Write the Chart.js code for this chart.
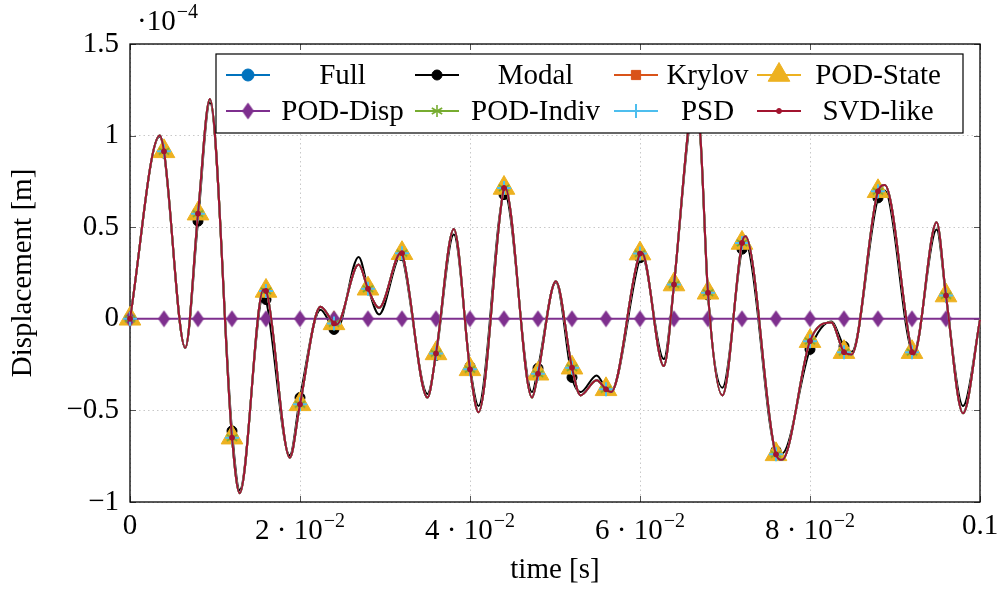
<!DOCTYPE html>
<html>
<head>
<meta charset="utf-8">
<script src="https://cdn.jsdelivr.net/npm/chart.js@4.4.0/dist/chart.umd.min.js"></script>
<style>
  html, body { margin: 0; padding: 0; background: #fff; }
</style>
</head>
<body>
<canvas id="resp" width="1001" height="592"></canvas>
<script>
// time instants [s]: extrema of the response plus the marker instants (every 4 ms)
var timeS = [0, 0.0035, 0.004, 0.0065, 0.008, 0.0094, 0.012, 0.0129, 0.0157, 0.016,
  0.0188, 0.02, 0.0224, 0.024, 0.0243, 0.0269, 0.028, 0.0293, 0.0319, 0.032,
  0.035, 0.036, 0.0381, 0.04, 0.041, 0.044, 0.0441, 0.0473, 0.048, 0.0501,
  0.052, 0.053, 0.0549, 0.056, 0.0566, 0.06, 0.0602, 0.0628, 0.064, 0.0656,
  0.0663, 0.0671, 0.068, 0.0697, 0.072, 0.0724, 0.076, 0.0767, 0.08, 0.0825,
  0.084, 0.0849, 0.088, 0.0888, 0.092, 0.0922, 0.0949, 0.096, 0.098, 0.1];

// displacement, in units of 1e-4 m
var fullDisp = [0, 1.000, 0.914, -0.158, 0.574, 1.200, -0.649, -0.952, 0.160, 0.152,
  -0.758, -0.467, 0.066, -0.025, -0.032, 0.296, 0.164, 0.060, 0.362, 0.358,
  -0.430, -0.189, 0.490, -0.276, -0.510, 0.714, 0.720, -0.430, -0.300, 0.205,
  -0.267, -0.418, -0.335, -0.385, -0.400, 0.356, 0.362, -0.258, 0.187, 1.000,
  1.250, 1.000, 0.142, -0.418, 0.414, 0.450, -0.740, -0.770, -0.122, -0.020,
  -0.182, -0.195, 0.696, 0.730, -0.182, -0.195, 0.527, 0.127, -0.516, -0.005];

var modalDisp = [0, 0.995, 0.905, -0.160, 0.533, 1.180, -0.612, -0.935, 0.130, 0.105,
  -0.745, -0.430, 0.050, -0.058, -0.062, 0.338, 0.170, 0.024, 0.350, 0.345,
  -0.410, -0.200, 0.460, -0.260, -0.476, 0.678, 0.680, -0.400, -0.270, 0.200,
  -0.320, -0.400, -0.309, -0.380, -0.390, 0.333, 0.345, -0.220, 0.190, 0.970,
  1.200, 0.980, 0.130, -0.376, 0.380, 0.414, -0.720, -0.735, -0.167, -0.015,
  -0.150, -0.180, 0.660, 0.700, -0.175, -0.180, 0.487, 0.120, -0.476, -0.010];

// these reduced models lie on top of the full solution at this scale
var krylovDisp = fullDisp;
var podStateDisp = fullDisp;
var podIndivDisp = fullDisp;
var psdDisp = fullDisp;
var svdDisp = fullDisp;

// POD-Disp stays flat at zero
var podDispTime = [0, 0.004, 0.008, 0.012, 0.016, 0.02, 0.024, 0.028, 0.032, 0.036,
  0.04, 0.044, 0.048, 0.052, 0.056, 0.06, 0.064, 0.068, 0.072, 0.076,
  0.08, 0.084, 0.088, 0.092, 0.096, 0.1];
var podDispVals = [0, 0, 0, 0, 0, 0, 0, 0, 0, 0, 0, 0, 0, 0, 0, 0, 0, 0, 0, 0, 0, 0, 0, 0, 0, 0];

var xTickLabels = [['0', ''], ['2 \u00b7 10', '\u22122'], ['4 \u00b7 10', '\u22122'],
  ['6 \u00b7 10', '\u22122'], ['8 \u00b7 10', '\u22122'], ['0.1', '']];
var yTickLabels = ['\u22121', '\u22120.5', '0', '0.5', '1', '1.5'];

var FONT = '"Liberation Serif", "Times New Roman", serif';
var FS = 29;
var markerStep = 0.004;

function isMarker(t) {
  if (t === undefined || t > 0.0995) return false;
  return Math.abs(t / markerStep - Math.round(t / markerStep)) < 1e-6;
}

function makeDiamond(color) {
  var c = document.createElement('canvas');
  c.width = 13; c.height = 18;
  var g = c.getContext('2d');
  g.fillStyle = color;
  g.beginPath();
  g.moveTo(6.5, 0.5); g.lineTo(12.5, 9); g.lineTo(6.5, 17.5); g.lineTo(0.5, 9);
  g.closePath(); g.fill();
  return c;
}

function makeAsterisk(color) {
  var c = document.createElement('canvas');
  c.width = 14; c.height = 14;
  var g = c.getContext('2d');
  g.strokeStyle = color; g.lineWidth = 1.6;
  for (var k = 0; k < 3; k++) {
    var a = Math.PI / 2 + k * Math.PI / 3;
    g.beginPath();
    g.moveTo(7 + 6 * Math.cos(a), 7 + 6 * Math.sin(a));
    g.lineTo(7 - 6 * Math.cos(a), 7 - 6 * Math.sin(a));
    g.stroke();
  }
  return c;
}

var series = [
  { label: 'Full', t: timeS, v: fullDisp, color: '#0072BD', style: 'circle', r: 6 },
  { label: 'Modal', t: timeS, v: modalDisp, color: '#000000', style: 'circle', r: 5 },
  { label: 'Krylov', t: timeS, v: krylovDisp, color: '#D95319', style: 'rect', r: 6.5 },
  { label: 'POD-State', t: timeS, v: podStateDisp, color: '#EDB120', style: 'triangle', r: 12.5 },
  { label: 'POD-Disp', t: podDispTime, v: podDispVals, color: '#7E2F8E', style: makeDiamond('#7E2F8E'), r: 6 },
  { label: 'POD-Indiv', t: timeS, v: podIndivDisp, color: '#77AC30', style: makeAsterisk('#77AC30'), r: 6 },
  { label: 'PSD', t: timeS, v: psdDisp, color: '#4DBEEE', style: 'cross', r: 7 },
  { label: 'SVD-like', t: timeS, v: svdDisp, color: '#A2142F', style: 'circle', r: 2.5 }
];

// frame + inward tick marks (pgfplots style)
var frameTicks = {
  id: 'frameTicks',
  beforeDatasetsDraw: function (chart) {
    var ctx = chart.ctx, a = chart.chartArea, xs = chart.scales.x, ys = chart.scales.y;
    ctx.save();
    ctx.strokeStyle = '#555';
    ctx.lineWidth = 1;
    xs.ticks.forEach(function (t) {
      var px = Math.round(xs.getPixelForValue(t.value)) + 0.5;
      ctx.beginPath();
      ctx.moveTo(px, a.bottom); ctx.lineTo(px, a.bottom - 6);
      ctx.moveTo(px, a.top); ctx.lineTo(px, a.top + 6);
      ctx.stroke();
    });
    ys.ticks.forEach(function (t) {
      var py = Math.round(ys.getPixelForValue(t.value)) + 0.5;
      ctx.beginPath();
      ctx.moveTo(a.left, py); ctx.lineTo(a.left + 6, py);
      ctx.moveTo(a.right, py); ctx.lineTo(a.right - 6, py);
      ctx.stroke();
    });
    ctx.strokeStyle = '#000';
    ctx.lineWidth = 1.3;
    ctx.strokeRect(a.left, a.top, a.right - a.left, a.bottom - a.top);
    ctx.restore();
  }
};

var legendBox = { left: 216, top: 54, right: 963, bottom: 133 };
var legendCols = [{ sym: 248, text: 342.5 }, { sym: 437, text: 535.5 }, { sym: 636, text: 707.5 }, { sym: 779, text: 878 }];
var legendRows = [75, 111];

var legendPlugin = {
  id: 'boxLegend',
  afterDatasetsDraw: function (chart) {
    var ctx = chart.ctx;
    ctx.save();
    ctx.fillStyle = '#fff';
    ctx.strokeStyle = '#000';
    ctx.lineWidth = 1.2;
    ctx.fillRect(legendBox.left, legendBox.top, legendBox.right - legendBox.left, legendBox.bottom - legendBox.top);
    ctx.strokeRect(legendBox.left, legendBox.top, legendBox.right - legendBox.left, legendBox.bottom - legendBox.top);
    series.forEach(function (s, i) {
      var col = legendCols[i % 4], y = legendRows[i < 4 ? 0 : 1];
      ctx.strokeStyle = s.color;
      ctx.lineWidth = 2;
      ctx.beginPath();
      ctx.moveTo(col.sym - 22, y); ctx.lineTo(col.sym + 22, y);
      ctx.stroke();
      ctx.fillStyle = s.color;
      ctx.lineWidth = s.style === 'cross' ? 2 : 1;
      if (Chart.helpers && Chart.helpers.drawPoint) {
        Chart.helpers.drawPoint(ctx, { pointStyle: s.style, radius: s.r, borderWidth: ctx.lineWidth, rotation: 0 }, col.sym, y);
      }
      ctx.fillStyle = '#000';
      ctx.font = FS + 'px ' + FONT;
      ctx.textAlign = 'center';
      ctx.textBaseline = 'middle';
      ctx.fillText(s.label, col.text, y + 1);
    });
    ctx.restore();
  },
  afterDraw: function (chart) {
    var ctx = chart.ctx, a = chart.chartArea, xs = chart.scales.x;
    ctx.save();
    ctx.fillStyle = '#000';
    ctx.textBaseline = 'alphabetic';
    xs.ticks.forEach(function (t, i) {
      var lab = xTickLabels[i];
      if (!lab) return;
      var px = xs.getPixelForValue(t.value);
      ctx.font = FS + 'px ' + FONT;
      var wb = ctx.measureText(lab[0]).width;
      ctx.font = '20px ' + FONT;
      var we = lab[1] ? ctx.measureText(lab[1]).width + 1 : 0;
      var x0 = px - (wb + we) / 2;
      var base = lab[1] ? a.bottom + 37 : a.bottom + 32;
      ctx.textAlign = 'left';
      ctx.font = FS + 'px ' + FONT;
      ctx.fillText(lab[0], x0, base);
      if (lab[1]) {
        ctx.font = '20px ' + FONT;
        ctx.fillText(lab[1], x0 + wb + 1, base - 12);
      }
    });
    // axis multiplier
    ctx.textAlign = 'left';
    ctx.font = FS + 'px ' + FONT;
    ctx.fillText('\u00b710', 137, 30);
    var w = ctx.measureText('\u00b710').width;
    ctx.font = '20px ' + FONT;
    ctx.fillText('\u22124', 137 + w + 1, 18);
    ctx.restore();
  }
};

Chart.defaults.font.family = FONT;
Chart.defaults.font.size = FS;
Chart.defaults.color = '#000';

new Chart(document.getElementById('resp'), {
  type: 'line',
  data: {
    datasets: series.map(function (s, i) {
      return {
        label: s.label,
        data: s.t.map(function (t, k) { return { x: t, y: s.v[k] }; }),
        borderColor: s.color,
        backgroundColor: s.color,
        borderWidth: 2,
        pointStyle: s.style,
        pointBorderWidth: s.style === 'cross' ? 2 : 1,
        pointRadius: function (c) { return isMarker(c.raw && c.raw.x) ? s.r : 0; },
        pointHoverRadius: 0,
        pointHitRadius: 0,
        cubicInterpolationMode: 'monotone',
        clip: false,
        order: series.length - i
      };
    })
  },
  options: {
    responsive: false,
    animation: false,
    devicePixelRatio: 1,
    layout: { padding: { top: 44, right: 21, left: 0, bottom: 0 } },
    plugins: { legend: { display: false }, tooltip: { enabled: false } },
    scales: {
      x: {
        type: 'linear', min: 0, max: 0.1,
        afterFit: function (s) { s.height = 90; },
        ticks: { stepSize: 0.02, display: false },
        grid: { color: '#c8c8c8', lineWidth: 1, drawTicks: false },
        border: { display: false, dash: [1.5, 3] },
        title: { display: true, text: 'time [s]', font: { size: FS }, padding: { top: 0, bottom: 4 } }
      },
      y: {
        type: 'linear', min: -1, max: 1.5,
        afterFit: function (s) { s.width = 130; },
        ticks: {
          stepSize: 0.5, padding: 11,
          callback: function (v, i) { return yTickLabels[i]; }
        },
        grid: { color: '#c8c8c8', lineWidth: 1, drawTicks: false },
        border: { display: false, dash: [1.5, 3] },
        title: { display: true, text: 'Displacement [m]', font: { size: FS }, padding: { top: 6, bottom: 0 } }
      }
    }
  },
  plugins: [frameTicks, legendPlugin]
});
</script>
</body>
</html>
